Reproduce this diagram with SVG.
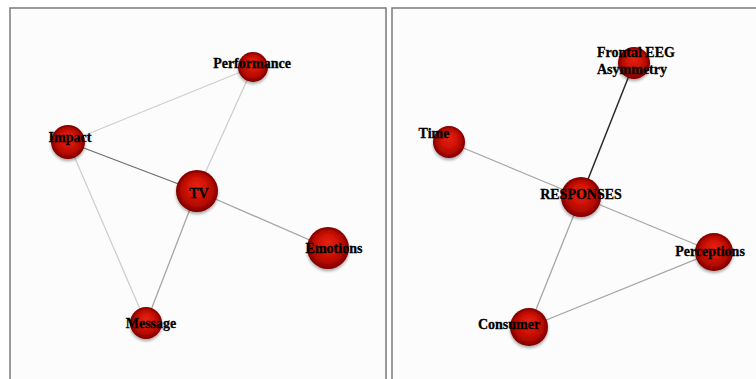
<svg xmlns="http://www.w3.org/2000/svg" width="756" height="379" viewBox="0 0 756 379">
  <defs>
    <radialGradient id="ball" cx="0.5" cy="0.5" r="0.5" fx="0.5" fy="0.35">
      <stop offset="0" stop-color="#e4220f"/>
      <stop offset="0.55" stop-color="#cc1005"/>
      <stop offset="0.85" stop-color="#a20500"/>
      <stop offset="1" stop-color="#7a0000"/>
    </radialGradient>
    <filter id="shadow" x="-30%" y="-30%" width="160%" height="170%">
      <feGaussianBlur in="SourceAlpha" stdDeviation="1.5"/>
      <feOffset dy="2" result="b"/>
      <feComponentTransfer><feFuncA type="linear" slope="0.35"/></feComponentTransfer>
      <feMerge><feMergeNode/><feMergeNode in="SourceGraphic"/></feMerge>
    </filter>
  </defs>
  <style>
    .panel { fill: #fcfcfc; stroke: #7a7a7a; stroke-width: 1.5; }
    .edge { fill: none; stroke-width: 1.3; }
    .light { stroke: #cfcfcf; }
    .mid { stroke: #a6a6a6; }
    .dark { stroke: #6e6e6e; }
    .black { stroke: #2a2a2a; stroke-width: 1.5; }
    .ball { fill: url(#ball); filter: url(#shadow); }
    .label { font-family: "Liberation Serif", "Times New Roman", serif; font-weight: bold; font-size: 14px; fill: #000; stroke: #000; stroke-width: 0.3; text-anchor: middle; }
  </style>
  <rect width="756" height="379" fill="#ffffff"/>
  <rect class="panel" x="10" y="8" width="376" height="380"/>
  <rect class="panel" x="392" y="8" width="372" height="380"/>

  <g id="connectors">
    <line class="edge light" x1="68" y1="142" x2="253" y2="67"/>
    <line class="edge light" x1="253" y1="67" x2="197" y2="191"/>
    <line class="edge dark" x1="68" y1="142" x2="197" y2="191"/>
    <line class="edge mid" x1="197" y1="191" x2="328" y2="248"/>
    <line class="edge light" x1="68" y1="142" x2="146" y2="323"/>
    <line class="edge mid" x1="197" y1="191" x2="146" y2="323"/>

    <line class="edge black" x1="634" y1="63" x2="581" y2="197"/>
    <line class="edge mid" x1="449" y1="142" x2="581" y2="197"/>
    <line class="edge mid" x1="581" y1="197" x2="714" y2="252"/>
    <line class="edge mid" x1="581" y1="197" x2="529" y2="327"/>
    <line class="edge mid" x1="529" y1="327" x2="714" y2="252"/>
  </g>

  <g id="node-performance">
    <circle class="ball" cx="253" cy="67" r="15"/>
    <text class="label" x="252" y="68">Performance</text>
  </g>
  <g id="node-impact">
    <circle class="ball" cx="68" cy="142" r="17"/>
    <text class="label" x="70" y="142">Impact</text>
  </g>
  <g id="node-tv">
    <circle class="ball" cx="197" cy="191" r="21"/>
    <text class="label" x="199" y="198">TV</text>
  </g>
  <g id="node-emotions">
    <circle class="ball" cx="328" cy="248" r="21"/>
    <text class="label" x="334" y="253">Emotions</text>
  </g>
  <g id="node-message">
    <circle class="ball" cx="146" cy="323" r="16"/>
    <text class="label" x="151" y="328">Message</text>
  </g>

  <g id="node-frontal-eeg">
    <circle class="ball" cx="634" cy="63" r="16"/>
    <text class="label" x="597" y="57" style="text-anchor:start">Frontal EEG</text>
    <text class="label" x="597" y="74" style="text-anchor:start">Asymmetry</text>
  </g>
  <g id="node-time">
    <circle class="ball" cx="449" cy="142" r="16"/>
    <text class="label" x="434" y="138">Time</text>
  </g>
  <g id="node-responses">
    <circle class="ball" cx="581" cy="197" r="20"/>
    <text class="label" x="581" y="199">RESPONSES</text>
  </g>
  <g id="node-perceptions">
    <circle class="ball" cx="714" cy="252" r="19"/>
    <text class="label" x="710" y="256">Perceptions</text>
  </g>
  <g id="node-consumer">
    <circle class="ball" cx="529" cy="327" r="19"/>
    <text class="label" x="509" y="329">Consumer</text>
  </g>
</svg>
